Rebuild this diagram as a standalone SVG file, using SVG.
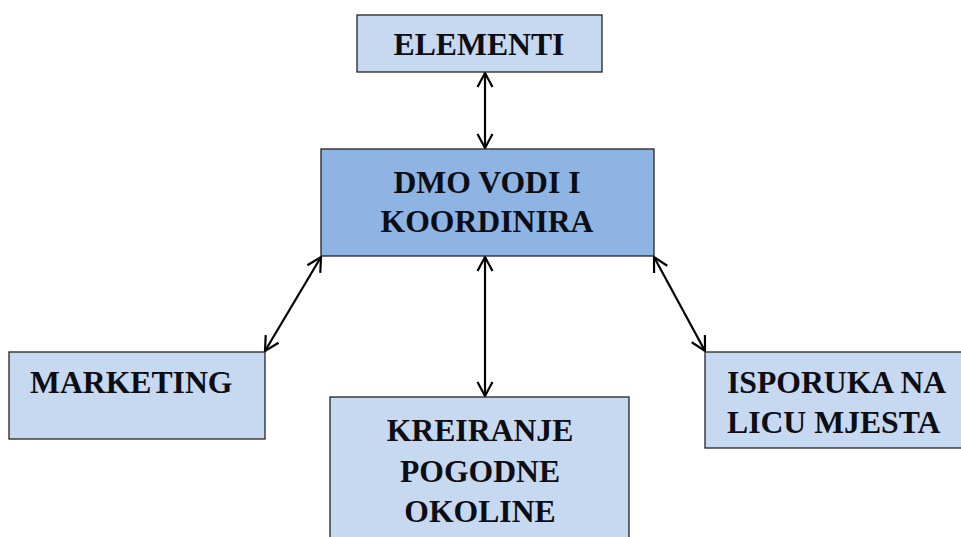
<svg xmlns="http://www.w3.org/2000/svg" width="961" height="537" viewBox="0 0 961 537">
<style>
.box{fill:#C6D9F1;stroke:#222;stroke-width:1.3}
.main{fill:#8EB4E3;stroke:#222;stroke-width:1.3}
text{font-family:"Liberation Serif","Times New Roman",serif;font-weight:bold;font-size:31.7px;fill:#0d0d14}
.c{text-anchor:middle}
.conn{stroke:#000;stroke-width:2.2;fill:none}
</style>
<defs>
<marker id="ah" markerWidth="18" markerHeight="18" refX="15" refY="9" orient="auto-start-reverse" markerUnits="userSpaceOnUse">
<path d="M1,1.5 L15,9 L1,16.5" fill="none" stroke="#000" stroke-width="2.2"/>
</marker>
</defs>
<rect width="961" height="537" fill="#fff"/>
<g id="connectors">
<line class="conn" x1="485" y1="73" x2="485" y2="148" marker-start="url(#ah)" marker-end="url(#ah)"/>
<line class="conn" x1="321" y1="257" x2="265" y2="351" marker-start="url(#ah)" marker-end="url(#ah)"/>
<line class="conn" x1="485" y1="257" x2="485" y2="396" marker-start="url(#ah)" marker-end="url(#ah)"/>
<line class="conn" x1="654" y1="257" x2="705" y2="351" marker-start="url(#ah)" marker-end="url(#ah)"/>
</g>
<g id="elementi">
<rect class="box" x="357" y="15" width="245" height="57"/>
<text class="c" x="479" y="55">ELEMENTI</text>
</g>
<g id="dmo">
<rect class="main" x="321" y="149" width="333" height="107"/>
<text class="c" x="487" y="193">DMO VODI I</text>
<text class="c" x="487" y="232">KOORDINIRA</text>
</g>
<g id="marketing">
<rect class="box" x="9" y="352" width="256" height="87"/>
<text x="30" y="393">MARKETING</text>
</g>
<g id="kreiranje">
<rect class="box" x="330" y="397" width="299" height="150"/>
<text class="c" x="480" y="441">KREIRANJE</text>
<text class="c" x="480" y="482">POGODNE</text>
<text class="c" x="480" y="522">OKOLINE</text>
</g>
<g id="isporuka">
<rect class="box" x="705" y="352" width="265" height="96"/>
<text x="727" y="393">ISPORUKA NA</text>
<text x="727" y="433">LICU MJESTA</text>
</g>
</svg>
